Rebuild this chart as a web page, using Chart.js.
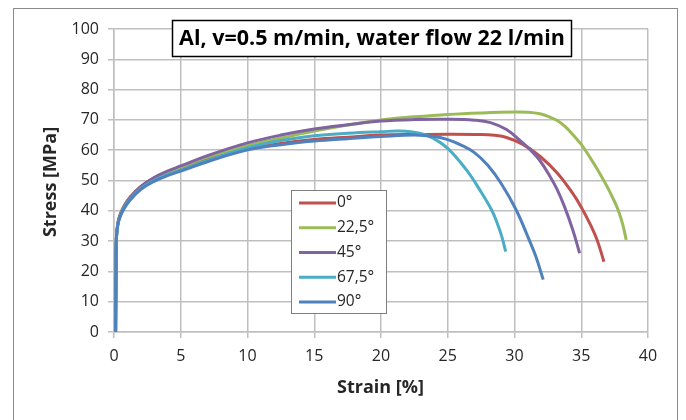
<!DOCTYPE html>
<html><head><meta charset="utf-8">
<script src="https://cdn.jsdelivr.net/npm/chart.js@4.4.0/dist/chart.umd.min.js"></script>
<style>html,body{margin:0;padding:0;background:#fff;}#wrap{width:686px;height:420px;position:relative;}</style>
</head><body><div id="wrap"><canvas id="c" width="686" height="420"></canvas></div>
<script>
const chartTitle = 'Al, v=0.5 m/min, water flow 22 l/min';
const xAxisTitle = 'Strain [%]';
const yAxisTitle = 'Stress [MPa]';
const seriesNames = ['0°', '22,5°', '45°', '67,5°', '90°'];
const seriesColors = ['#C0504D', '#9BBB59', '#8064A2', '#4BACC6', '#4F81BD'];
const xTicks = [0, 5, 10, 15, 20, 25, 30, 35, 40];
const yTicks = [0, 10, 20, 30, 40, 50, 60, 70, 80, 90, 100];

const strain0 = [0.12, 0.15, 0.18, 0.3, 0.5, 0.8, 1.2, 2.0, 3.0, 4.0, 5, 7, 10, 12.5, 15, 17.5, 20, 22.5, 25, 27.5, 28.5, 29.4, 30.6, 31.9, 33.2, 34.4, 35.0, 35.6, 36.2, 36.7];
const stress0 = [0, 20, 31, 36.3, 39.3, 42, 44.5, 48, 50.8, 52.6, 54, 57, 60.3, 62.2, 63.5, 64.3, 65, 65.2, 65.3, 65.2, 64.9, 64.2, 62, 58, 52.5, 45.5, 41.2, 36.2, 30.2, 23.2];

const strain22 = [0.12, 0.15, 0.18, 0.3, 0.5, 0.8, 1.2, 2.0, 3.0, 4.0, 5, 7, 10, 12.5, 15, 17.5, 20, 22.5, 25, 27.5, 30, 31, 31.9, 32.6, 33.2, 33.8, 34.4, 35, 35.7, 36.3, 36.9, 37.4, 37.75, 38.1, 38.37];
const stress22 = [0, 20, 31, 36, 39, 41.7, 44.2, 47.8, 50.6, 52.7, 54.4, 57.7, 61.5, 64, 66.3, 68.3, 70, 71, 71.8, 72.3, 72.6, 72.5, 72, 71, 69.8, 67.8, 65, 61.9, 57.3, 53, 48.3, 43.9, 40.4, 35.6, 30.4];

const strain45 = [0.12, 0.15, 0.18, 0.3, 0.5, 0.8, 1.2, 2.0, 3.0, 4.0, 5, 7, 10, 12.5, 15, 17.5, 20, 22.5, 25, 27, 28.2, 29.4, 30.6, 31.3, 31.9, 32.6, 33.2, 33.76, 34.38, 34.88];
const stress45 = [0, 20, 31, 36, 39, 41.7, 44.3, 48, 51, 53.1, 54.8, 58.2, 62.4, 65, 67, 68.4, 69.6, 70.1, 70.2, 69.9, 69.1, 66.8, 62.5, 59.6, 56.6, 51.8, 47, 41.2, 33.5, 26];

const strain67 = [0.12, 0.15, 0.18, 0.3, 0.5, 0.8, 1.2, 2.0, 3.0, 4.0, 5, 7, 10, 12.5, 15, 17.5, 20, 21.4, 22.9, 23.9, 25, 26.4, 27.4, 28.26, 28.7, 29.05, 29.34];
const stress67 = [0, 20, 31, 35.8, 38.7, 41.3, 43.8, 47.3, 50, 51.9, 53.4, 56.6, 60.8, 63.2, 64.8, 65.6, 66.1, 66.3, 65.6, 64, 60.6, 53.5, 46.9, 40.5, 36, 31.5, 26.5];

const strain90 = [0.12, 0.15, 0.18, 0.3, 0.5, 0.8, 1.2, 2.0, 3.0, 4.0, 5, 7, 10, 12.5, 15, 17.5, 20, 22.5, 24, 25, 26, 27, 28, 29, 30.1, 31.1, 31.6, 32.15];
const stress90 = [0, 20, 31, 35.7, 38.5, 41, 43.5, 47, 49.7, 51.6, 53.1, 56.2, 60.1, 61.8, 63, 63.8, 64.5, 65, 64.5, 63.5, 61.7, 59.2, 55, 49, 40.5, 30.4, 24.9, 17.3];

const strainSets = [strain0, strain22, strain45, strain67, strain90];
const stressSets = [stress0, stress22, stress45, stress67, stress90];

const FONT = '"Open Sans", Arial, sans-serif';

const datasets = seriesNames.map((name, i) => ({
  label: name,
  data: strainSets[i].map((x, j) => ({ x: x, y: stressSets[i][j] })),
  borderColor: seriesColors[i],
  backgroundColor: seriesColors[i],
  borderWidth: 3,
  pointRadius: 0,
  showLine: true,
  fill: false,
  order: seriesNames.length - 1 - i,
  tension: 0.4
}));

const decor = {
  id: 'decor',
  afterDraw(chart) {
    const ctx = chart.ctx;
    ctx.save();
    ctx.strokeStyle = '#8a8a8a';
    ctx.lineWidth = 1;
    ctx.strokeRect(13.5, 8.5, 664, 430);
    ctx.fillStyle = '#fff';
    ctx.fillRect(172, 20, 400, 37);
    ctx.strokeStyle = '#000';
    ctx.lineWidth = 1.5;
    ctx.strokeRect(172.5, 20.5, 399, 36);
    ctx.fillStyle = '#000';
    ctx.font = 'bold 21.5px ' + FONT;
    ctx.textAlign = 'center';
    ctx.textBaseline = 'middle';
    ctx.fillText(chartTitle, 372, 39);
    ctx.fillStyle = '#fff';
    ctx.fillRect(291, 190, 95, 123);
    ctx.strokeStyle = '#7f7f7f';
    ctx.lineWidth = 1;
    ctx.strokeRect(291.5, 190.5, 95, 123);
    ctx.font = '15.5px ' + FONT;
    ctx.textAlign = 'left';
    ctx.textBaseline = 'middle';
    chart.data.datasets.forEach((ds, i) => {
      const y = 203 + i * 24.75;
      ctx.strokeStyle = ds.borderColor;
      ctx.lineWidth = 3;
      ctx.beginPath();
      ctx.moveTo(299, y);
      ctx.lineTo(336, y);
      ctx.stroke();
      ctx.fillStyle = '#262626';
      ctx.fillText(ds.label, 337, y);
    });
    ctx.fillStyle = '#262626';
    ctx.font = 'bold 18px ' + FONT;
    ctx.textAlign = 'center';
    ctx.textBaseline = 'middle';
    ctx.fillText(xAxisTitle, 380.5, 388);
    ctx.translate(51, 182);
    ctx.rotate(-Math.PI / 2);
    ctx.fillText(yAxisTitle, 0, 0);
    ctx.restore();
  }
};

new Chart(document.getElementById('c'), {
  type: 'scatter',
  data: { datasets: datasets },
  options: {
    responsive: false,
    animation: false,
    devicePixelRatio: 1,
    layout: { padding: { top: 29, right: 38, left: 0, bottom: 0 } },
    plugins: { legend: { display: false }, title: { display: false }, tooltip: { enabled: false } },
    scales: {
      x: {
        type: 'linear', min: 0, max: 40,
        afterFit(s) { s.height = 88; },
        afterBuildTicks(s) { s.ticks = xTicks.map(v => ({ value: v })); },
        ticks: { color: '#262626', font: { family: FONT, size: 16 }, padding: 9, maxRotation: 0 },
        grid: { color: '#bfbfbf', lineWidth: 1.5, tickLength: 6, drawTicks: true },
        border: { color: '#bfbfbf', width: 1.5 }
      },
      y: {
        type: 'linear', min: 0, max: 100,
        afterFit(s) { s.width = 114; },
        afterBuildTicks(s) { s.ticks = yTicks.map(v => ({ value: v })); },
        ticks: { color: '#262626', font: { family: FONT, size: 16 }, padding: 9 },
        grid: { color: '#bfbfbf', lineWidth: 1.5, tickLength: 6, drawTicks: true },
        border: { color: '#bfbfbf', width: 1.5 }
      }
    }
  },
  plugins: [decor]
});
</script></body></html>
